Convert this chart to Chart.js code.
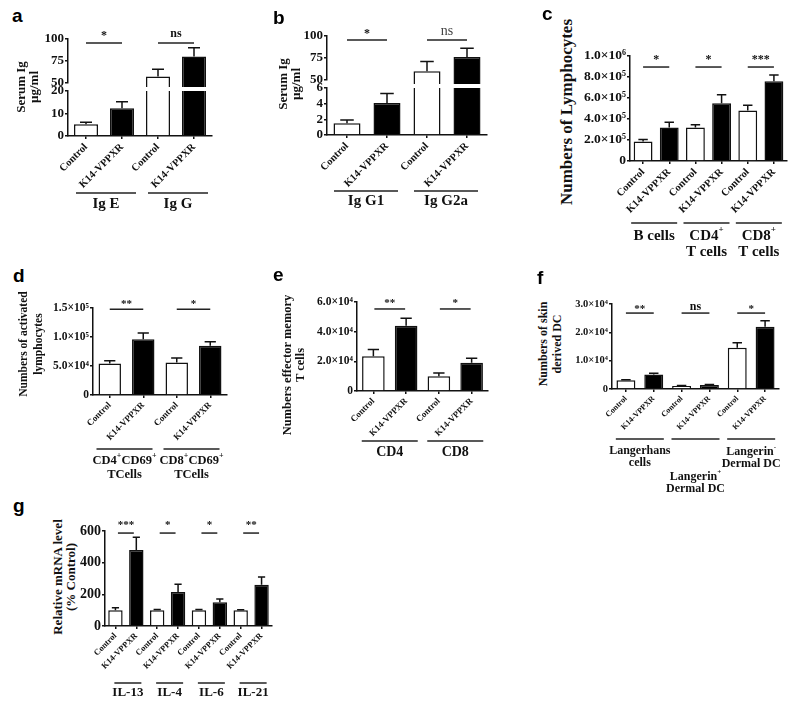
<!DOCTYPE html>
<html><head><meta charset="utf-8">
<script src="https://cdn.jsdelivr.net/npm/chart.js@4.4.1/dist/chart.umd.min.js"></script>
<style>
html,body{margin:0;padding:0;background:#fff;}
body{width:800px;height:710px;position:relative;overflow:hidden;}
canvas{position:absolute;}
.letter{position:absolute;font:bold 19px 'Liberation Sans',Arial,sans-serif;line-height:19px;color:#000;}
.ytitle{position:absolute;font-weight:bold;font-family:'Liberation Serif','Times New Roman',serif;white-space:nowrap;text-align:center;transform:translate(-50%,-50%) rotate(-90deg);color:#111;}
</style></head><body>
<script>
// ---------------- DATA ----------------
const CATS = ['Control', 'K14-VPPXR'];

// a
const aGroupNames = [['Ig E'], ['Ig G']];
const aMean = [5.2, 12.3, 57.5, 80];
const aErr = [6.1, 15.2, 65.5, 90];
const aSig = ['*', 'ns'];
const aTicksUpper = [50, 75, 100];
const aTicksLower = [0, 10, 20];
// b
const bGroupNames = [['Ig G1'], ['Ig G2a']];
const bMean = [1.5, 4.1, 60, 76];
const bErr = [1.9, 5.3, 71, 86];
const bSig = ['*', 'ns'];
const bTicksUpper = [50, 75, 100];
const bTicksLower = [0, 2, 4, 6];
// c
const cGroupNames = [['B cells'], ['CD4⁺', 'T cells'], ['CD8⁺', 'T cells']];
const cMean = [1.85e5, 3.2e5, 3.2e5, 5.5e5, 4.8e5, 7.6e5];
const cErr = [2.05e5, 3.7e5, 3.45e5, 6.3e5, 5.3e5, 8.2e5];
const cSig = ['*', '*', '***'];
const cTicks = [0, 2e5, 4e5, 6e5, 8e5, 1e6];
const cTickLabels = ['0', '2.0×10⁵', '4.0×10⁵', '6.0×10⁵', '8.0×10⁵', '1.0×10⁶'];
// d
const dGroupNames = [['CD4⁺CD69⁺', 'TCells'], ['CD8⁺CD69⁺', 'TCells']];
const dMean = [5.45e4, 9.6e4, 5.6e4, 8.5e4];
const dErr = [5.9e4, 1.07e5, 6.4e4, 9.2e4];
const dSig = ['**', '*'];
const dTicks = [0, 5e4, 1e5, 1.5e5];
const dTickLabels = ['0', '5.0×10⁴', '1.0×10⁵', '1.5×10⁵'];
// e
const eGroupNames = [['CD4'], ['CD8']];
const eMean = [2.35e4, 4.4e4, 1.0e4, 1.9e4];
const eErr = [2.8e4, 4.9e4, 1.22e4, 2.2e4];
const eSig = ['**', '*'];
const eTicks = [0, 2e4, 4e4, 6e4];
const eTickLabels = ['0', '2.0×10⁴', '4.0×10⁴', '6.0×10⁴'];
// f
const fGroupNames = [['Langerhans', 'cells'], ['Langerin⁺', 'Dermal DC'], ['Langerin⁻', 'Dermal DC']];
const fMean = [3.1e3, 5.1e3, 1.1e3, 1.4e3, 14.6e3, 22e3];
const fErr = [3.3e3, 5.6e3, 1.25e3, 1.6e3, 16.3e3, 24.1e3];
const fSig = ['**', 'ns', '*'];
const fTicks = [0, 1e4, 2e4, 3e4];
const fTickLabels = ['0', '1.0×10⁴', '2.0×10⁴', '3.0×10⁴'];
// g
const gGroupNames = [['IL-13'], ['IL-4'], ['IL-6'], ['IL-21']];
const gMean = [100, 480, 100, 215, 100, 150, 100, 260];
const gErr = [115, 560, 105, 263, 105, 170, 103, 310];
const gSig = ['***', '*', '*', '**'];
const gTicks = [0, 200, 400, 600];

// ---------------- DRAWING ----------------
const SERIF = "'Liberation Serif','Times New Roman',serif";
const INK = '#111';
const LINE = '#222';

function addCanvas(x, y, w, h) {
  const c = document.createElement('canvas');
  c.width = w; c.height = h;
  c.style.left = x + 'px'; c.style.top = y + 'px';
  c.style.width = w + 'px'; c.style.height = h + 'px';
  document.body.appendChild(c);
  return c;
}

const SUP = {'⁺': '+', '⁻': '-'};
function drawRich(ctx, text, cx, cy, size) {
  const segs = [];
  for (const ch of text) {
    const sup = SUP[ch] !== undefined;
    const t = sup ? SUP[ch] : ch;
    const last = segs[segs.length - 1];
    if (last && last.sup === sup) last.t += t; else segs.push({t, sup});
  }
  const fn = sup => `bold ${sup ? Math.round(size * 0.62) : size}px ${SERIF}`;
  let total = 0;
  segs.forEach(s => { ctx.font = fn(s.sup); s.w = ctx.measureText(s.t).width; total += s.w; });
  let x = cx - total / 2;
  ctx.fillStyle = INK; ctx.textAlign = 'left'; ctx.textBaseline = 'middle';
  segs.forEach(s => { ctx.font = fn(s.sup); ctx.fillText(s.t, x, s.sup ? cy - size * 0.4 : cy); x += s.w; });
}

function drawErrors(chart, p) {
  const {ctx, chartArea: a} = chart;
  const ys = chart.scales.y, xs = chart.scales.x;
  const meta = chart.getDatasetMeta(0);
  ctx.save();
  ctx.beginPath(); ctx.rect(a.left - 20, a.top - 1, a.right - a.left + 40, a.bottom - a.top + 2); ctx.clip();
  ctx.strokeStyle = INK; ctx.lineWidth = 1.5;
  p.values.forEach((v, i) => {
    if (v == null) return;
    const x = xs.getPixelForValue(i);
    const y0 = ys.getPixelForValue(v);
    const y1 = ys.getPixelForValue(p.err[i]);
    const w = meta.data[i].width * 0.25;
    ctx.beginPath();
    ctx.moveTo(x, y0); ctx.lineTo(x, y1);
    ctx.moveTo(x - w, y1); ctx.lineTo(x + w, y1);
    ctx.stroke();
  });
  ctx.restore();
}

function drawSig(chart, p) {
  if (!p.sig) return;
  const {ctx} = chart; const xs = chart.scales.x, ys = chart.scales.y;
  p.sig.forEach((s, k) => {
    const x1 = xs.getPixelForValue(2 * k) + p.sigInset;
    const x2 = xs.getPixelForValue(2 * k + 1) - p.sigInset;
    const y = ys.getPixelForValue(p.sigY);
    ctx.save();
    ctx.strokeStyle = LINE; ctx.lineWidth = 1.5;
    ctx.beginPath(); ctx.moveTo(x1, y); ctx.lineTo(x2, y); ctx.stroke();
    const isNs = s === 'ns';
    const size = isNs ? p.nsSize : p.starSize;
    const reg = isNs && p.nsRegular;
    ctx.font = `${reg ? 'normal' : 'bold'} ${size}px ${SERIF}`;
    ctx.fillStyle = reg ? '#444' : INK;
    ctx.textAlign = 'center'; ctx.textBaseline = 'alphabetic';
    const base = y - p.sigOff + (isNs ? 0.25 : 0.48) * size;
    ctx.fillText(s, (x1 + x2) / 2, base);
    ctx.restore();
  });
}

function drawGroups(chart, p) {
  if (!p.groups) return;
  const {ctx, chartArea: a} = chart; const xs = chart.scales.x;
  p.groups.forEach((g, k) => {
    const mid = (xs.getPixelForValue(2 * k) + xs.getPixelForValue(2 * k + 1)) / 2 + p.gShift;
    const ly = a.bottom + p.gLine;
    ctx.save();
    ctx.strokeStyle = LINE; ctx.lineWidth = 1.5;
    ctx.beginPath(); ctx.moveTo(mid - p.gHalf, ly); ctx.lineTo(mid + p.gHalf, ly); ctx.stroke();
    const dy = p.gLabelDy ? p.gLabelDy[k] : p.gLabel;
    g.forEach((line, j) => drawRich(ctx, line, mid, a.bottom + dy + j * p.gLh, p.gFont));
    ctx.restore();
  });
}

function makeChart(p) {
  const cv = addCanvas(p.cx, p.cy, p.cw, p.ch);
  const yW = p.area.l - p.cx;
  const xH = p.cy + p.ch - p.area.b;
  const padTop = p.area.t - p.cy;
  const padRight = p.cx + p.cw - p.area.r;
  const cats = p.groupNames.flatMap(() => CATS);
  const tickLabels = p.tickLabels || p.ticks.map(String);
  const deco = {
    id: 'deco',
    afterDatasetsDraw(chart) { drawErrors(chart, p); },
    afterDraw(chart) { drawSig(chart, p); drawGroups(chart, p); }
  };
  const xScale = {
    display: p.showX, offset: true,
    grid: {display: true, offset: false, drawOnChartArea: false, drawTicks: true, tickLength: 3, color: INK, lineWidth: 1.5},
    border: {display: true, color: INK, width: 1.5},
    ticks: {autoSkip: false, minRotation: 45, maxRotation: 45, padding: 2, color: INK,
            font: {family: SERIF, weight: 'bold', size: p.xFont || 10}}
  };
  if (p.showX) xScale.afterFit = s => { s.height = xH; };
  return new Chart(cv, {
    type: 'bar',
    data: {labels: cats, datasets: [{
      data: p.values,
      backgroundColor: p.values.map((v, i) => i % 2 ? '#000' : '#fff'),
      borderColor: INK, borderWidth: 1.5,
      barPercentage: p.barPct, categoryPercentage: 1,
      clip: {top: 0, left: 10, right: 10, bottom: 4}
    }]},
    options: {
      responsive: false, animation: false, devicePixelRatio: 1, events: [],
      layout: {padding: {top: padTop, right: padRight, left: 0, bottom: p.showX ? 0 : (p.cy + p.ch - p.area.b)}},
      plugins: {legend: {display: false}, tooltip: {enabled: false}},
      scales: {
        x: xScale,
        y: {
          min: p.yMin, max: p.yMax,
          afterBuildTicks: s => { s.ticks = p.ticks.map(v => ({value: v})); },
          grid: {drawOnChartArea: false, drawTicks: true, tickLength: 3, color: INK, lineWidth: 1.5},
          border: {display: true, color: INK, width: 1.5},
          ticks: {padding: 1, color: INK, autoSkip: false,
                  font: {family: SERIF, weight: 'bold', size: p.yFont},
                  callback: (v, i) => tickLabels[i]},
          afterFit: s => { s.width = yW; }
        }
      }
    },
    plugins: [deco]
  });
}

// ---- panel a (broken axis) ----
makeChart({cx: 40, cy: 20, cw: 180, ch: 75, area: {l: 68, t: 39, r: 212, b: 83}, showX: false,
  groupNames: aGroupNames, values: aMean.map(v => v >= aTicksUpper[0] ? v : null), err: aErr,
  yMin: aTicksUpper[0], yMax: aTicksUpper[aTicksUpper.length - 1], ticks: aTicksUpper, yFont: 13, barPct: 0.667,
  sig: aSig, sigY: 95.4, sigInset: 0, sigOff: 9.5, starSize: 12, nsSize: 12});
makeChart({cx: 40, cy: 80, cw: 190, ch: 135, area: {l: 68, t: 91, r: 212, b: 136}, showX: true, xFont: 10.5,
  groupNames: aGroupNames, values: aMean, err: aErr,
  yMin: 0, yMax: aTicksLower[aTicksLower.length - 1], ticks: aTicksLower, yFont: 13, barPct: 0.667,
  groups: aGroupNames, gLine: 57, gLabel: 68, gLh: 16, gHalf: 30, gShift: 2, gFont: 15});

// ---- panel b (broken axis) ----
makeChart({cx: 295, cy: 18, cw: 200, ch: 74, area: {l: 327, t: 36, r: 487, b: 80}, showX: false,
  groupNames: bGroupNames, values: bMean.map(v => v >= bTicksUpper[0] ? v : null), err: bErr,
  yMin: bTicksUpper[0], yMax: bTicksUpper[bTicksUpper.length - 1], ticks: bTicksUpper, yFont: 13, barPct: 0.675,
  sig: bSig, sigY: 95.5, sigInset: 0, sigOff: 8.3, starSize: 12, nsSize: 14, nsRegular: true});
makeChart({cx: 295, cy: 77, cw: 205, ch: 138, area: {l: 327, t: 88, r: 487, b: 135}, showX: true, xFont: 10.5,
  groupNames: bGroupNames, values: bMean, err: bErr,
  yMin: 0, yMax: bTicksLower[bTicksLower.length - 1], ticks: bTicksLower, yFont: 13, barPct: 0.675,
  groups: bGroupNames, gLine: 56, gLabel: 66, gLh: 16, gHalf: 32, gShift: -1, gFont: 15});

// ---- panel c ----
makeChart({cx: 580, cy: 40, cw: 218, ch: 225, area: {l: 630, t: 56, r: 787, b: 161}, showX: true, xFont: 10.5,
  groupNames: cGroupNames, values: cMean, err: cErr,
  yMin: 0, yMax: cTicks[cTicks.length - 1], ticks: cTicks, tickLabels: cTickLabels, yFont: 13.5, barPct: 0.72,
  sig: cSig, sigY: 8.95e5, sigInset: 0, sigOff: 10, starSize: 12, nsSize: 12,
  groups: cGroupNames, gLine: 62, gLabel: 75, gLh: 16, gHalf: 23, gShift: -2, gFont: 15});

// ---- panel d ----
makeChart({cx: 45, cy: 290, cw: 190, ch: 200, area: {l: 93, t: 308, r: 227, b: 395}, showX: true, xFont: 9,
  groupNames: dGroupNames, values: dMean, err: dErr,
  yMin: 0, yMax: dTicks[dTicks.length - 1], ticks: dTicks, tickLabels: dTickLabels, yFont: 11.5, barPct: 0.67,
  sig: dSig, sigY: 1.48e5, sigInset: 0, sigOff: 7, starSize: 11, nsSize: 12,
  groups: dGroupNames, gLine: 54, gLabel: 66, gLh: 14, gHalf: 28, gShift: -2, gFont: 12.5});

// ---- panel e ----
makeChart({cx: 310, cy: 285, cw: 185, ch: 185, area: {l: 357, t: 302, r: 488, b: 391}, showX: true, xFont: 9,
  groupNames: eGroupNames, values: eMean, err: eErr,
  yMin: 0, yMax: eTicks[eTicks.length - 1], ticks: eTicks, tickLabels: eTickLabels, yFont: 11.5, barPct: 0.69,
  sig: eSig, sigY: 5.53e4, sigInset: 1, sigOff: 8, starSize: 11, nsSize: 12,
  groups: eGroupNames, gLine: 50, gLabel: 61, gLh: 14, gHalf: 28, gShift: 0, gFont: 14});

// ---- panel f ----
makeChart({cx: 568, cy: 288, cw: 230, ch: 210, area: {l: 612, t: 304, r: 779, b: 389}, showX: true, xFont: 8,
  groupNames: fGroupNames, values: fMean, err: fErr,
  yMin: 0, yMax: fTicks[fTicks.length - 1], ticks: fTicks, tickLabels: fTickLabels, yFont: 10.5, barPct: 0.68,
  sig: fSig, sigY: 2.68e4, sigInset: 0, sigOff: 6.5, starSize: 11, nsSize: 12,
  groups: fGroupNames, gLine: 50, gLabelDy: [62, 88, 63], gLh: 12, gHalf: 24, gShift: 0, gFont: 12});

// ---- panel g ----
makeChart({cx: 78, cy: 515, cw: 200, ch: 195, area: {l: 105, t: 531, r: 272, b: 626}, showX: true, xFont: 8.5,
  groupNames: gGroupNames, values: gMean, err: gErr,
  yMin: 0, yMax: gTicks[gTicks.length - 1], ticks: gTicks, yFont: 14, barPct: 0.69,
  sig: gSig, sigY: 587, sigInset: 2.5, sigOff: 10, starSize: 11, nsSize: 12,
  groups: gGroupNames, gLine: 57, gLabel: 67, gLh: 14, gHalf: 13.5, gShift: 2, gFont: 13});

// ---- panel letters & axis titles ----
[['a', 12, 22], ['b', 273, 24], ['c', 542, 20], ['d', 13, 282], ['e', 273, 281], ['f', 537, 284], ['g', 13, 512]]
  .forEach(([t, x, base]) => {
    const d = document.createElement('div');
    d.className = 'letter'; d.textContent = t;
    d.style.left = x + 'px'; d.style.top = (base - 16) + 'px';
    document.body.appendChild(d);
  });
[
  {lines: ['Serum Ig', 'µg/ml'], x: 26.5, y: 87, size: 13, lh: 13},
  {lines: ['Serum Ig', 'µg/ml'], x: 288.5, y: 84, size: 13, lh: 13},
  {lines: ['Numbers of Lymphocytes'], x: 567, y: 112, size: 17, lh: 18},
  {lines: ['Numbers of activated', 'lymphocytes'], x: 30.5, y: 344, size: 11.5, lh: 15},
  {lines: ['Numbers effector memory', 'T cells'], x: 293.5, y: 365, size: 12.5, lh: 13},
  {lines: ['Numbers of skin', 'derived DC'], x: 550, y: 344, size: 12, lh: 14},
  {lines: ['Relative mRNA level', '(% Control)'], x: 63.5, y: 577, size: 13, lh: 13}
].forEach(t => {
  const d = document.createElement('div');
  d.className = 'ytitle';
  d.innerHTML = t.lines.join('<br>');
  d.style.left = t.x + 'px'; d.style.top = t.y + 'px';
  d.style.fontSize = t.size + 'px'; d.style.lineHeight = t.lh + 'px';
  document.body.appendChild(d);
});
</script>
</body></html>
